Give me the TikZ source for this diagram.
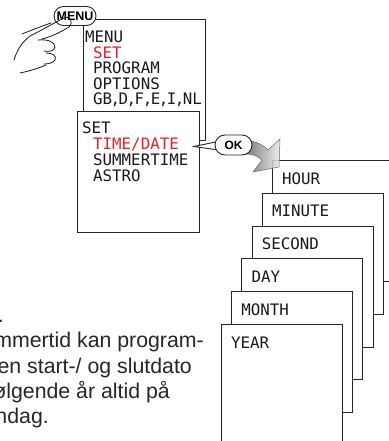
\documentclass[tikz,border=0pt]{standalone}
\usepackage{fontspec}
\setmainfont{Liberation Sans}
\newfontfamily\lcdfont{DejaVu Sans Mono}
\usepackage{xcolor}
\usepackage{tikz}
\usetikzlibrary{shapes.misc, positioning}
\definecolor{lcdred}{RGB}{230,32,40}
\newcommand{\lcdcomma}{\makebox[6.5pt][c]{,}}

\begin{document}
\begin{tikzpicture}[x=1pt, y=-1pt,
  panel/.style={draw=black!85, line width=0.9pt, fill=white, minimum width=122pt, minimum height=121pt, anchor=north west, inner sep=0pt},
  lcd/.style={font=\lcdfont\fontsize{15.8}{16}\selectfont, anchor=base west, inner sep=0pt, text=black!90},
  key/.style={draw=black!85, line width=0.9pt, fill=white, rounded rectangle, inner sep=0pt, font=\bfseries\fontsize{12}{13}\selectfont},
  hand/.style={draw=black!90, line width=0.8pt, line cap=round, line join=round},
  note/.style={font=\fontsize{21.3}{24}\selectfont, anchor=base east, inner sep=0pt, text=black!85}]
\useasboundingbox (0,0) rectangle (388,441);

% Main menu display
\node[panel] (menubox) at (83,19) {};
\node[lcd] (mmenu) at (85,43) {MENU};
\node[lcd, text=lcdred] (mset) at (93,58.5) {SET};
\node[lcd] (mprog) at (93,74) {PROGRAM};
\node[lcd] (mopt) at (93,89.5) {OPTIONS};
\node[lcd] (mlang) at (93,105) {GB\lcdcomma D\lcdcomma F\lcdcomma E\lcdcomma I\lcdcomma NL};

% MENU key and hand
\node[key, minimum width=42pt, minimum height=19pt, font=\bfseries\fontsize{12.5}{13}\selectfont] (menukey) at (75,16) {MENU};
\draw[hand] (14,60) .. controls (17,50) and (22,42) .. (30,36)
  .. controls (42,30) and (54,23) .. (64,18)
  .. controls (70,15) and (74,22) .. (69,27)
  .. controls (62,31) and (54,36) .. (42,39);
\draw[hand] (22,34) .. controls (32,30) and (42,26) .. (51,23);
\draw[hand] (38,40) .. controls (48,39) and (55,42) .. (55,47)
  .. controls (54,51) and (50,52) .. (44,51);
\draw[hand] (46,53) .. controls (53,53) and (57,56) .. (55,60)
  .. controls (53,63) and (48,64) .. (44,64);
\draw[hand] (20,73) .. controls (30,71) and (39,68) .. (46,65);

% SET sub menu
\node[panel] (setbox) at (77,111) {};
\node[lcd] (sset) at (82,133.5) {SET};
\node[lcd, text=lcdred] (stime) at (93,149.5) {TIME/DATE};
\node[lcd] (ssummer) at (93,165.5) {SUMMERTIME};
\node[lcd] (sastro) at (93,181.5) {ASTRO};

% stack of time/date displays
\foreach \lbl [count=\i from 0] in {HOUR,MINUTE,SECOND,DAY,MONTH,YEAR}{
  \pgfmathsetmacro{\bx}{272-10.2*\i}
  \pgfmathsetmacro{\by}{160+32.8*\i}
  \node[panel, minimum width=121pt] (card\i) at (\bx,\by) {};
  \node[lcd] (lbl\i) at (\bx+10,\by+24) {\lbl};
}

% OK key with grey arrow
\path[draw=black!60, line width=0.5pt, left color=black!60, right color=black!8, fill opacity=0.85]
  (246,140.5) .. controls (256,141) and (263,145) .. (268,150)
  -- (280,139) -- (279,167) -- (253,172) -- (262,160)
  .. controls (258,156) and (252,154) .. (246,154) -- cycle;
\coordinate (tail) at (194,146.5);
\draw[draw=black!85, line width=0.9pt, fill=white] (218,141.5) -- (tail) -- (218,150);
\node[key, minimum width=37pt, minimum height=20pt] (okkey) at (233.5,145) {OK};

% note text
\node[note] (line1) at (4,322) {.};
\node[note] (line2) at (204,347.5) {mmertid kan program-};
\node[note] (line3) at (192,373) {en start-/ og slutdato};
\node[note] (line4) at (170,398) {ølgende år altid på};
\node[note] (line5) at (49,423) {ndag.};
\end{tikzpicture}
\end{document}
